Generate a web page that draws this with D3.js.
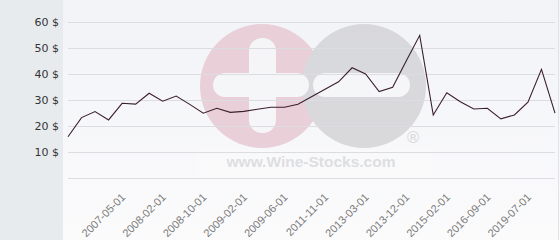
<!DOCTYPE html>
<html>
<head>
<meta charset="utf-8">
<script src="https://cdn.jsdelivr.net/npm/d3@7"></script>
<style>
  body { margin: 0; background: #ffffff; }
  svg { display: block; font-family: "DejaVu Sans", sans-serif; }
</style>
</head>
<body>
<div id="chart"></div>
<script>
// price per bottle, one value per category (37 points)
const prices = [15.9, 23.3, 25.6, 22.4, 28.8, 28.5, 32.7, 29.6, 31.6, 28.4,
                25.0, 26.9, 25.3, 25.7, 26.5, 27.3, 27.3, 28.4, 31.3, 34.2,
                37.1, 42.5, 40.1, 33.3, 35.0, 45.1, 55.0, 24.3, 32.9, 29.4,
                26.6, 26.9, 22.8, 24.3, 29.2, 41.9, 25.0];

// category labels that are shown (every third category)
const tickIndex = [4, 7, 10, 13, 16, 19, 22, 25, 28, 31, 34];
const tickLabels = ["2007-05-01", "2008-02-01", "2008-10-01", "2009-02-01", "2009-06-01",
                    "2011-11-01", "2013-03-01", "2013-12-01", "2015-02-01", "2016-09-01", "2019-07-01"];

const yTicks = [0, 10, 20, 30, 40, 50, 60];

const width = 560, height = 240;

const svg = d3.select("#chart")
    .append("svg")
    .attr("width", width)
    .attr("height", height);

// backgrounds
const grad = svg.append("defs").append("linearGradient")
    .attr("id", "bg").attr("x1", 0).attr("y1", 0).attr("x2", 0).attr("y2", 1);
grad.append("stop").attr("offset", "0%").attr("stop-color", "#f2f3f7");
grad.append("stop").attr("offset", "100%").attr("stop-color", "#fbfbfc");

svg.append("rect").attr("x", 0).attr("y", 0).attr("width", 63).attr("height", height).attr("fill", "#e7ebee");
svg.append("rect").attr("x", 63).attr("y", 0).attr("width", width - 63).attr("height", height).attr("fill", "url(#bg)");
svg.append("line").attr("x1", 558.5).attr("x2", 558.5).attr("y1", 0).attr("y2", height)
    .attr("stroke", "#e2e3e6").attr("stroke-width", 1);

// scales
const xScale = d3.scaleLinear().domain([0, prices.length - 1]).range([68, 555]);
const yScale = d3.scaleLinear().domain([0, 60]).range([178, 22.4]);

// watermark
const wm = svg.append("g").attr("opacity", 0.9);
wm.append("rect").attr("x", 197).attr("y", 150).attr("width", 235).attr("height", 24).attr("fill", "#ffffff").attr("opacity", 0.3);
wm.append("circle").attr("cx", 262).attr("cy", 86).attr("r", 62).attr("fill", "#e8cbd4");
wm.append("circle").attr("cx", 364).attr("cy", 86).attr("r", 62).attr("fill", "#d6d6d9");
wm.append("rect").attr("x", 249).attr("y", 38).attr("width", 27).attr("height", 95).attr("rx", 13).attr("fill", "#f6f6f8");
wm.append("rect").attr("x", 213).attr("y", 73).attr("width", 96).attr("height", 24).attr("rx", 12).attr("fill", "#f6f6f8");
wm.append("rect").attr("x", 313).attr("y", 73).attr("width", 97).attr("height", 24).attr("rx", 12).attr("fill", "#f6f6f8");
wm.append("text").attr("x", 413).attr("y", 143).attr("text-anchor", "middle")
    .attr("font-size", 16).attr("fill", "#d6d6d9").text("®");
wm.append("text").attr("x", 311).attr("y", 167).attr("text-anchor", "middle")
    .attr("font-family", "Liberation Sans, Arial, sans-serif").attr("font-weight", "bold")
    .attr("font-size", 15.5).attr("fill", "#dcdcdf").text("www.Wine-Stocks.com");

// grid lines
svg.append("g")
    .selectAll("line")
    .data(yTicks)
    .join("line")
    .attr("x1", 68).attr("x2", 555)
    .attr("y1", d => Math.round(yScale(d)) + 0.5)
    .attr("y2", d => Math.round(yScale(d)) + 0.5)
    .attr("stroke", "#dcdde0")
    .attr("stroke-width", 1);

// y axis labels
svg.append("g")
    .selectAll("text")
    .data(yTicks.filter(d => d > 0))
    .join("text")
    .attr("x", 59)
    .attr("y", d => yScale(d) + 4)
    .attr("text-anchor", "end")
    .attr("font-size", 11)
    .attr("fill", "#333333")
    .text(d => d + " $");

// x axis labels, rotated
svg.append("g")
    .selectAll("text")
    .data(tickIndex)
    .join("text")
    .attr("transform", d => `translate(${xScale(d) + 4},${198}) rotate(-45)`)
    .attr("text-anchor", "end")
    .attr("font-family", "Liberation Sans, Arial, sans-serif")
    .attr("font-size", 11)
    .attr("fill", "#7a7a7a")
    .text((d, i) => tickLabels[i]);

// price line
const line = d3.line()
    .x((d, i) => xScale(i))
    .y(d => yScale(d));

svg.append("path")
    .datum(prices)
    .attr("d", line)
    .attr("fill", "none")
    .attr("stroke", "#3c1f2e")
    .attr("stroke-width", 1.1)
    .attr("stroke-linejoin", "miter");
</script>
</body>
</html>
